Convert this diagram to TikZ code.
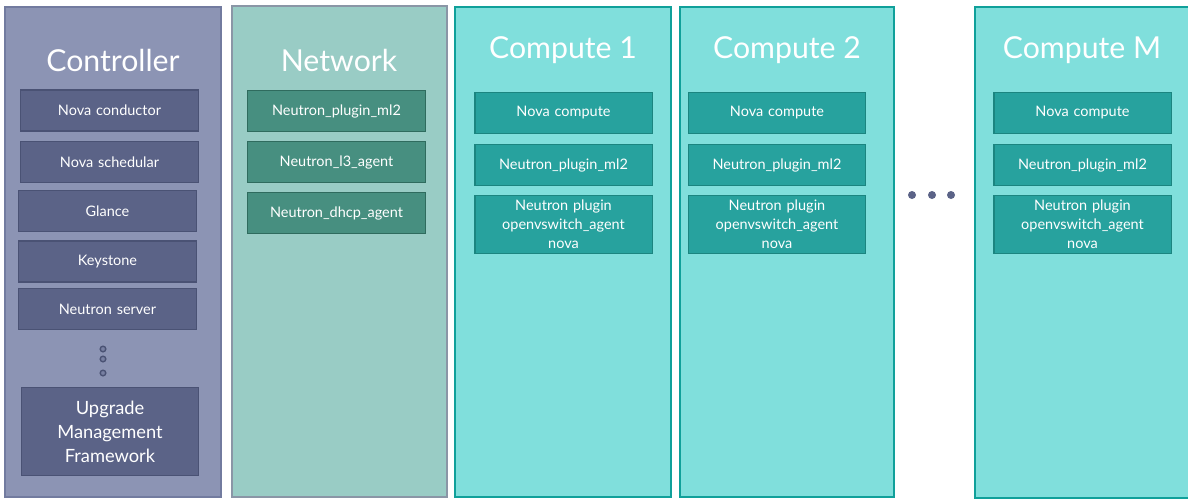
\documentclass[tikz,border=0pt]{standalone}
\usepackage{fontspec}
\setmainfont{Lato}
\usepackage{tikz}
\definecolor{ctrlback}{HTML}{8C94B4}
\definecolor{ctrlline}{HTML}{727B9F}
\definecolor{ctrlbox}{HTML}{5B6387}
\definecolor{ctrlboxline}{HTML}{4A5274}
\definecolor{netback}{HTML}{99CCC5}
\definecolor{netline}{HTML}{8A96A6}
\definecolor{netbox}{HTML}{478F80}
\definecolor{netboxline}{HTML}{2F6B5E}
\definecolor{compback}{HTML}{80DFDC}
\definecolor{compline}{HTML}{10A09A}
\definecolor{compbox}{HTML}{27A29E}
\definecolor{compboxline}{HTML}{1B8580}
\tikzstyle{host} = [rectangle, line width=1.4pt, minimum width=5.4cm, minimum height=12.25cm]
\tikzstyle{titre} = [text=white, font=\fontsize{21.5}{25}\selectfont]
\tikzstyle{service} = [rectangle, line width=1pt, minimum width=4.35cm, minimum height=1.03cm, text width=4.2cm, text centered, text=white, font=\fontsize{10.3}{13.5}\selectfont]

\begin{document}
\begin{tikzpicture}[x=0.025cm, y=-0.025cm]

        \useasboundingbox (0,0) rectangle (1188,500);

        \node (controller) [host, draw=ctrlline, fill=ctrlback] at (113,252) {};
        \node (network) [host, draw=netline, fill=netback, minimum width=5.375cm] at (339.5,251.5) {};
        \node (compute1) [host, draw=compline, fill=compback] at (563,252) {};
        \node (compute2) [host, draw=compline, fill=compback, minimum width=5.35cm] at (787,252) {};
        \node (computeM) [host, draw=compline, fill=compback] at (1083,252.5) {};

        \node (ctrltitle) [titre] at (113,60) {Controller};
        \node (nettitle) [titre] at (339,60) {Network};
        \node (comp1title) [titre] at (563,50) {Compute 1};
        \node (comp2title) [titre] at (787,50) {Compute 2};
        \node (compMtitle) [titre] at (1082,50) {Compute M};

        \node (conductor) [service, draw=ctrlboxline, fill=ctrlbox] at (109.5,110.5) {Nova conductor};
        \node (scheduler) [service, draw=ctrlboxline, fill=ctrlbox] at (109.5,162) {Nova schedular};
        \node (glance) [service, draw=ctrlboxline, fill=ctrlbox] at (107.5,211) {Glance};
        \node (keystone) [service, draw=ctrlboxline, fill=ctrlbox] at (107.5,261.5) {Keystone};
        \node (server) [service, draw=ctrlboxline, fill=ctrlbox] at (107.5,309) {Neutron server};
        \node (upgrade) [service, draw=ctrlboxline, fill=ctrlbox, minimum height=2.2cm, font=\fontsize{13}{17}\selectfont] at (110,431.5) {Upgrade\\Management\\Framework};

        \foreach \y in {349,359,373}
            \draw[draw=ctrlboxline, fill=ctrlback!60!ctrlbox, line width=1pt] (103,\y) circle (0.07cm);

        \node (ml2net) [service, draw=netboxline, fill=netbox] at (336.5,111) {Neutron\_plugin\_ml2};
        \node (l3) [service, draw=netboxline, fill=netbox] at (336.5,162) {Neutron\_l3\_agent};
        \node (dhcp) [service, draw=netboxline, fill=netbox] at (336.5,213) {Neutron\_dhcp\_agent};

        \foreach \x/\n in {563.5/1, 777/2, 1082.5/M} {
            \node (nova\n) [service, draw=compboxline, fill=compbox] at (\x,113) {Nova compute};
            \node (ml2\n) [service, draw=compboxline, fill=compbox] at (\x,165) {Neutron\_plugin\_ml2};
            \node (ovs\n) [service, draw=compboxline, fill=compbox, minimum height=1.455cm] at (\x,224.5) {Neutron plugin\\openvswitch\_agent\\nova};
        }

        \foreach \x in {912,932,951}
            \fill[ctrlbox] (\x,195) circle (0.1cm);

    \end{tikzpicture}
\end{document}
